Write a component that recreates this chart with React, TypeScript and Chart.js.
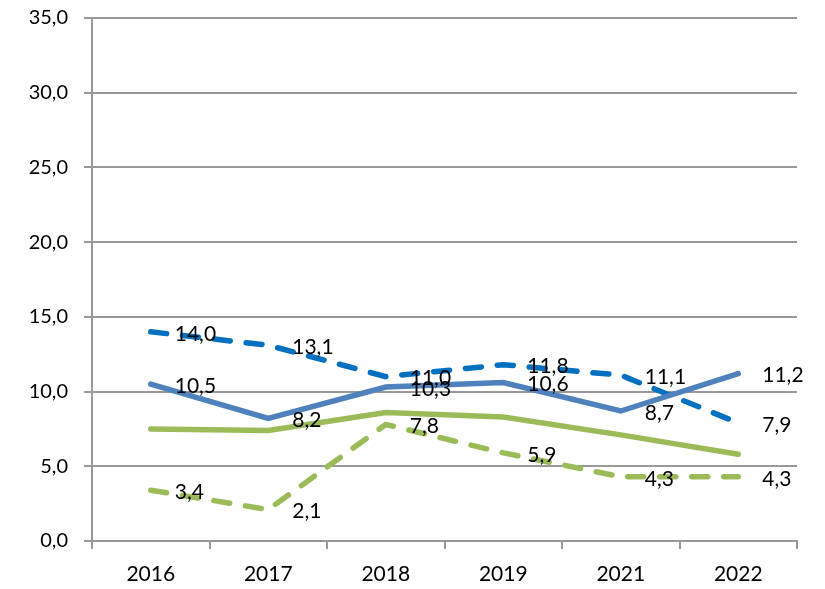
import React, { useEffect, useRef } from "react";
import { Chart, registerables } from "chart.js";

Chart.register(...registerables);

const categories = ["2016", "2017", "2018", "2019", "2021", "2022"];
const blueSolid = [10.5, 8.2, 10.3, 10.6, 8.7, 11.2];
const blueDashed = [14.0, 13.1, 11.0, 11.8, 11.1, 7.9];
const greenSolid = [7.5, 7.4, 8.6, 8.3, 7.1, 5.8];
const greenDashed = [3.4, 2.1, 7.8, 5.9, 4.3, 4.3];
const labelledSeries = [0, 1, 3];

const FONT = "Lato, 'Noto Sans', sans-serif";

const fmt = (v: number) => v.toFixed(1).replace(".", ",");

const labelPlugin = {
  id: "pointLabels",
  afterDatasetsDraw(chart: any) {
    const ctx = chart.ctx;
    ctx.save();
    ctx.font = `21px ${FONT}`;
    ctx.fillStyle = "#000";
    ctx.textAlign = "left";
    ctx.textBaseline = "middle";
    labelledSeries.forEach((di) => {
      const meta = chart.getDatasetMeta(di);
      const data = chart.data.datasets[di].data as number[];
      meta.data.forEach((pt: any, i: number) => {
        ctx.fillText(fmt(data[i]), pt.x + 24, pt.y + 2);
      });
    });
    ctx.restore();
  },
};

export default function App() {
  const ref = useRef<HTMLCanvasElement | null>(null);
  useEffect(() => {
    if (!ref.current) return;
    const common = {
      pointRadius: 0,
      pointHoverRadius: 0,
      borderWidth: 5.5,
      tension: 0,
      fill: false,
    };
    const chart = new Chart(ref.current, {
      type: "line",
      data: {
        labels: categories,
        datasets: [
          { ...common, label: "a", data: blueSolid, borderColor: "#4F81BD", borderCapStyle: "round", borderJoinStyle: "miter" },
          { ...common, label: "b", data: blueDashed, borderColor: "#0070C0", borderDash: [16, 16], borderCapStyle: "round" },
          { ...common, label: "c", data: greenSolid, borderColor: "#9BBB59", borderCapStyle: "round", borderJoinStyle: "miter" },
          { ...common, label: "d", data: greenDashed, borderColor: "#9BBB59", borderDash: [16, 16], borderCapStyle: "round" },
        ] as any,
      },
      plugins: [labelPlugin],
      options: {
        animation: false,
        responsive: false,
        maintainAspectRatio: false,
        layout: { padding: { top: 18, right: 28, left: 0, bottom: 0 } },
        plugins: { legend: { display: false }, tooltip: { enabled: false } },
        scales: {
          x: {
            offset: true,
            grid: {
              offset: true,
              display: true,
              drawOnChartArea: false,
              drawTicks: true,
              tickLength: 8,
              color: "#999999",
              lineWidth: 2,
            },
            border: { display: true, color: "#999999", width: 2 },
            ticks: { color: "#000", font: { family: FONT, size: 21 }, padding: 13, maxRotation: 0 },
            afterFit: (s: any) => { s.height = 48; s.paddingLeft = 0; s.paddingRight = 0; },
          },
          y: {
            min: 0,
            max: 35,
            grid: { color: "#999999", lineWidth: 2, tickLength: 8 },
            border: { display: true, color: "#999999", width: 2 },
            ticks: {
              stepSize: 5,
              color: "#000",
              font: { family: FONT, size: 20 },
              padding: 16,
              callback: (v: any) => fmt(Number(v)),
            },
            afterFit: (s: any) => { s.width = 92; s.paddingTop = 0; s.paddingBottom = 0; },
          },
        },
      } as any,
    });
    return () => chart.destroy();
  }, []);
  return (
    <div style={{ position: "fixed", left: 0, top: 0, width: 825, height: 589, background: "#fff" }}>
      <canvas ref={ref} width={825} height={589} style={{ width: 825, height: 589 }} />
    </div>
  );
}
